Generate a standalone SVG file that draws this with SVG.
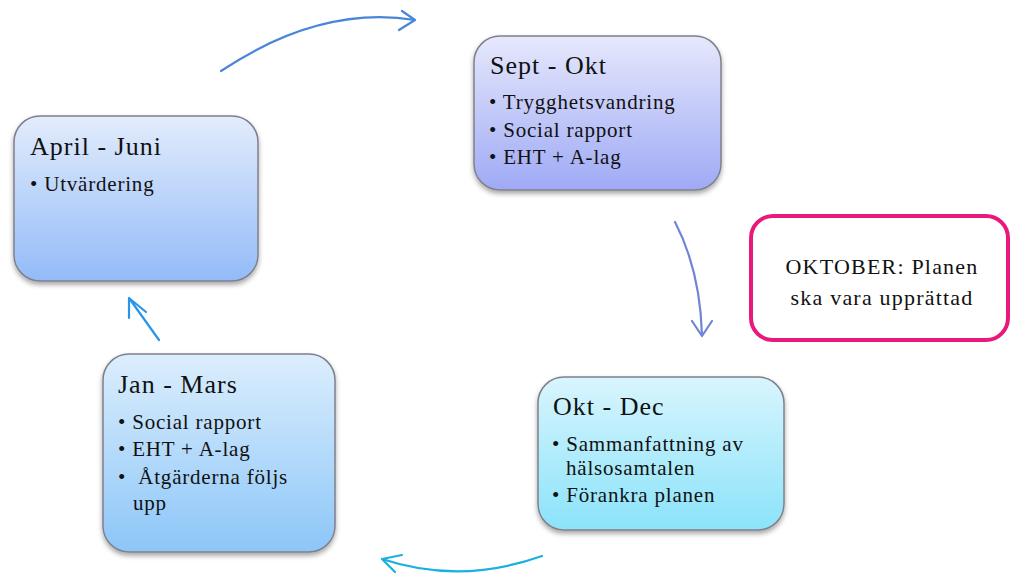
<svg xmlns="http://www.w3.org/2000/svg" width="1011" height="573" viewBox="0 0 1011 573">
<defs>
<linearGradient id="g1" x1="0" y1="0" x2="0" y2="1"><stop offset="0" stop-color="#e6e8fc"/><stop offset="1" stop-color="#9faaf5"/></linearGradient>
<linearGradient id="g2" x1="0" y1="0" x2="0" y2="1"><stop offset="0" stop-color="#e2ecfc"/><stop offset="1" stop-color="#93bbf8"/></linearGradient>
<linearGradient id="g3" x1="0" y1="0" x2="0" y2="1"><stop offset="0" stop-color="#dceefd"/><stop offset="1" stop-color="#8cc6f8"/></linearGradient>
<linearGradient id="g4" x1="0" y1="0" x2="0" y2="1"><stop offset="0" stop-color="#d8f5fd"/><stop offset="1" stop-color="#8be3fa"/></linearGradient>
<filter id="sh" x="-10%" y="-10%" width="120%" height="125%"><feDropShadow dx="0" dy="3" stdDeviation="2.5" flood-color="#000" flood-opacity="0.35"/></filter>
</defs>
<style>
.box{stroke:#80808c;stroke-width:1.5;filter:url(#sh)}
.t{font-family:"Liberation Serif",serif;font-size:26px;letter-spacing:1px;fill:#111}
.b{font-family:"Liberation Serif",serif;font-size:21px;letter-spacing:0.8px;fill:#111;white-space:pre}
.o{font-family:"Liberation Serif",serif;font-size:22px;letter-spacing:1.2px;fill:#111;text-anchor:middle}
.a{fill:none;stroke-width:2.2;stroke-linecap:round;stroke-linejoin:round}
</style>
<rect width="1011" height="573" fill="#fff"/>
<g id="connectors">
<path class="a" stroke="#4a86d8" d="M221,71 Q320,5 415,20 M402,11 L415,20 L399,30"/>
<path class="a" stroke="#6f86d6" d="M675,222 Q700,270 702,335 M692,321 L702,336 L712,321"/>
<path class="a" stroke="#1ab0e0" d="M542,556 Q460,585 382,559 M402,555 L382,559 L395,572"/>
<path class="a" stroke="#2a95e8" d="M159,340 L129,298 M129,318 L129,298 L146,312"/>
</g>
<g id="sept-okt">
<rect class="box" x="474" y="36" width="247" height="154" rx="26" fill="url(#g1)"/>
<text class="t" x="490" y="74">Sept - Okt</text>
<text class="b" x="489" y="109">• Trygghetsvandring</text>
<text class="b" x="489" y="137">• Social rapport</text>
<text class="b" x="489" y="164">• EHT + A-lag</text>
</g>
<g id="april-juni">
<rect class="box" x="14" y="116" width="244" height="165" rx="26" fill="url(#g2)"/>
<text class="t" x="30" y="155">April - Juni</text>
<text class="b" x="30" y="191">• Utvärdering</text>
</g>
<g id="jan-mars">
<rect class="box" x="103" y="354" width="232" height="198" rx="26" fill="url(#g3)"/>
<text class="t" x="118" y="393">Jan - Mars</text>
<text class="b" x="118" y="429">• Social rapport</text>
<text class="b" x="118" y="456">• EHT + A-lag</text>
<text class="b" x="118" y="484" xml:space="preserve">•  Åtgärderna följs</text>
<text class="b" x="133" y="510">upp</text>
</g>
<g id="okt-dec">
<rect class="box" x="538" y="377" width="246" height="153" rx="26" fill="url(#g4)"/>
<text class="t" x="553" y="415">Okt - Dec</text>
<text class="b" x="552" y="451">• Sammanfattning av</text>
<text class="b" x="566" y="475">hälsosamtalen</text>
<text class="b" x="552" y="502">• Förankra planen</text>
</g>
<g id="oktober">
<rect x="751" y="216" width="257" height="124" rx="22" fill="#fff" stroke="#e8197a" stroke-width="4"/>
<text class="o" x="882" y="274">OKTOBER: Planen</text>
<text class="o" x="882" y="305">ska vara upprättad</text>
</g>
</svg>
